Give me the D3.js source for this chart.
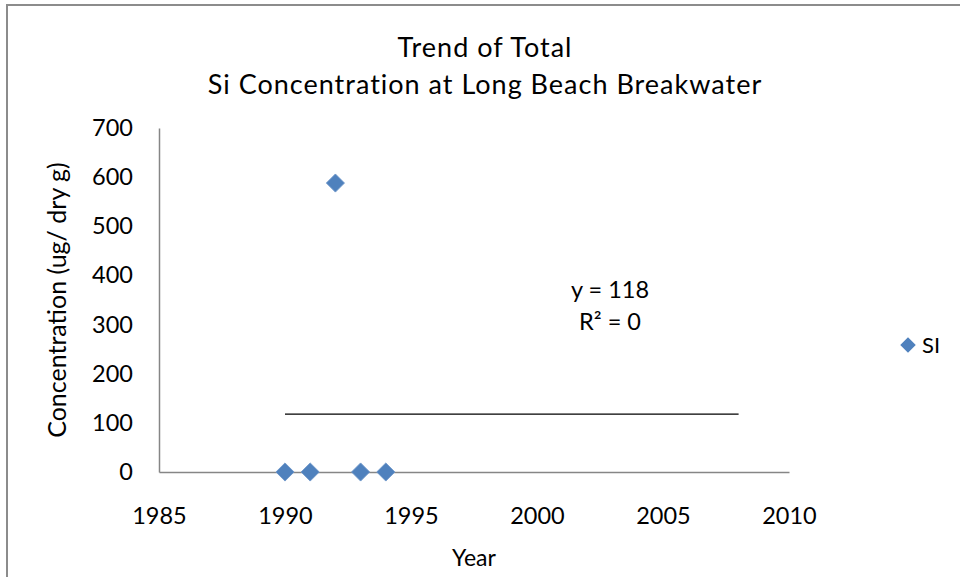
<!DOCTYPE html>
<html>
<head>
<meta charset="utf-8">
<script src="https://cdn.jsdelivr.net/npm/d3@7"></script>
<style>
  body { margin: 0; background: #fff; }
  text { font-family: Lato, "Open Sans", sans-serif; fill: #000; }
</style>
</head>
<body>
<div id="chart"></div>
<script>
// data
const years = [1990, 1991, 1992, 1993, 1994];
const siValues = [0, 0, 588, 0, 0];
const xTicks = [1985, 1990, 1995, 2000, 2005, 2010];
const yTicks = [0, 100, 200, 300, 400, 500, 600, 700];
const trendEnd = 2008;
const titleLines = ["Trend of Total", "Si Concentration at Long Beach Breakwater"];
const seriesName = "SI";

const W = 960, H = 577;
const margin = { top: 128, right: 171, bottom: 105, left: 159 },
    width = W - margin.left - margin.right,
    height = H - margin.top - margin.bottom;

const root = d3.select("#chart").append("svg")
    .attr("width", W)
    .attr("height", H);

root.append("rect")
    .attr("x", 7).attr("y", 5)
    .attr("width", 1000).attr("height", 1000)
    .attr("fill", "#fff")
    .attr("stroke", "#8c8c8c")
    .attr("stroke-width", 2);

const svg = root.append("g")
    .attr("transform", `translate(${margin.left},${margin.top})`);

const x = d3.scaleLinear().domain([1985, 2010]).range([0, width]);
const y = d3.scaleLinear().domain([0, 700]).range([height, 0]);

// axes, no tick marks like Excel
const xAxis = svg.append("g")
    .attr("transform", `translate(0,${height})`)
    .call(d3.axisBottom(x).tickValues(xTicks).tickFormat(d3.format("d"))
        .tickSize(0).tickPadding(35));
const yAxis = svg.append("g")
    .call(d3.axisLeft(y).tickValues(yTicks).tickSize(0).tickPadding(26));

[xAxis, yAxis].forEach(a => {
    a.select(".domain").attr("stroke", "#868686").attr("stroke-width", 1.5);
    a.selectAll("text").style("font-size", "23.5px").attr("fill", "#000");
});

// trend line (mean of the series)
const mean = d3.mean(siValues);
svg.append("line")
    .attr("x1", x(years[0])).attr("x2", x(trendEnd))
    .attr("y1", y(mean)).attr("y2", y(mean))
    .attr("stroke", "#000").attr("stroke-width", 1.3);

const diamond = d3.symbol().type(d3.symbolSquare).size(165);

svg.selectAll(".pt")
    .data(years.map((yr, i) => ({ yr, v: siValues[i] })))
    .join("path")
    .attr("class", "pt")
    .attr("d", diamond)
    .attr("transform", d => `translate(${x(d.yr)},${y(d.v)}) rotate(45)`)
    .attr("fill", "#4f81bd")
    .attr("stroke", "#6a93c8")
    .attr("stroke-width", 0.8);

// equation label
const eq = svg.append("text")
    .attr("text-anchor", "middle")
    .style("font-size", "23.5px");
eq.append("tspan").attr("x", 610 - margin.left).attr("y", 298 - margin.top)
    .text("y = " + Math.round(mean));
eq.append("tspan").attr("x", 610 - margin.left).attr("y", 330 - margin.top)
    .text("R² = 0");

// title
root.append("g").selectAll("text")
    .data(titleLines)
    .join("text")
    .attr("x", 485)
    .attr("y", (d, i) => 57 + i * 37)
    .attr("text-anchor", "middle")
    .style("font-size", "27px")
    .style("letter-spacing", "1px")
    .text(d => d);

// axis titles
root.append("text")
    .attr("x", 474).attr("y", 566)
    .attr("text-anchor", "middle")
    .style("font-size", "23px")
    .text("Year");

root.append("text")
    .attr("transform", `translate(66,${margin.top + height / 2}) rotate(-90)`)
    .attr("text-anchor", "middle")
    .style("font-size", "25px")
    .text("Concentration (ug/ dry g)");

// legend
const legend = root.append("g").attr("transform", "translate(908,345)");
legend.append("path")
    .attr("d", d3.symbol().type(d3.symbolSquare).size(120))
    .attr("transform", "rotate(45)")
    .attr("fill", "#4f81bd");
legend.append("text")
    .attr("x", 14).attr("y", 8)
    .style("font-size", "22px")
    .text(seriesName);
</script>
</body>
</html>
